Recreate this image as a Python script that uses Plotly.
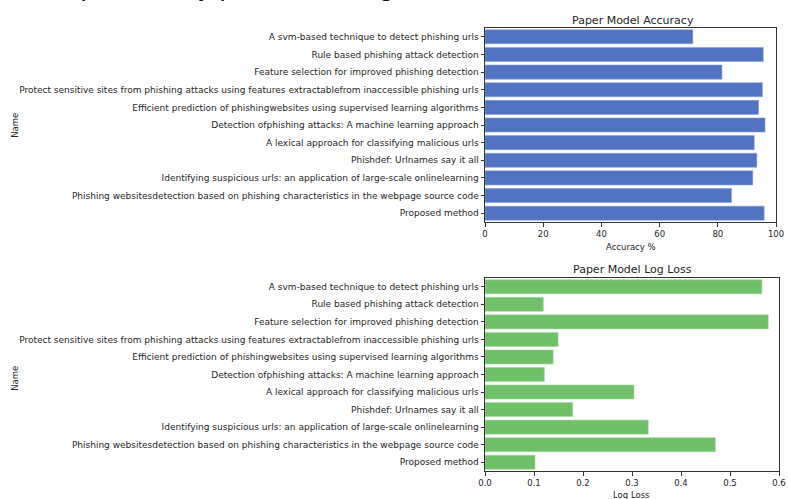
import plotly.graph_objects as go

names = [
    "A svm-based technique to detect phishing urls",
    "Rule based phishing attack detection",
    "Feature selection for improved phishing detection",
    "Protect sensitive sites from phishing attacks using features extractablefrom inaccessible phishing urls",
    "Efficient prediction of phishingwebsites using supervised learning algorithms",
    "Detection ofphishing attacks: A machine learning approach",
    "A lexical approach for classifying malicious urls",
    "Phishdef: Urlnames say it all",
    "Identifying suspicious urls: an application of large-scale onlinelearning",
    "Phishing websitesdetection based on phishing characteristics in the webpage source code",
    "Proposed method",
]
accuracy = [71.4, 95.6, 81.4, 95.3, 94.0, 96.2, 92.5, 93.4, 92.0, 84.7, 95.9]
log_loss = [0.565, 0.119, 0.578, 0.149, 0.139, 0.121, 0.304, 0.179, 0.333, 0.470, 0.102]

acc_ticks = [0, 20, 40, 60, 80, 100]
loss_ticks = [0.0, 0.1, 0.2, 0.3, 0.4, 0.5, 0.6]

W, H = 788, 499
FONT = "DejaVu Sans"
TXT = "#262626"

fig = go.Figure()
fig.add_trace(go.Bar(x=accuracy, y=names, orientation="h", xaxis="x", yaxis="y",
                     marker=dict(color="#5173C2", line=dict(color="#8aa2da", width=0.6)),
                     width=0.8, showlegend=False))
fig.add_trace(go.Bar(x=log_loss, y=names, orientation="h", xaxis="x2", yaxis="y2",
                     marker=dict(color="#70C069", line=dict(color="#9fd69a", width=0.6)),
                     width=0.8, showlegend=False))

def px_x(p):
    return p / W

def px_y(p):
    return 1 - p / H

axis_common = dict(showgrid=False, zeroline=False, showline=True, linecolor="#333",
                   linewidth=1, mirror=True, ticks="outside", ticklen=3.5,
                   tickcolor="#333", ticklabeloverflow="allow",
                   tickfont=dict(family=FONT, size=8.5, color=TXT))

fig.update_layout(
    width=W, height=H,
    margin=dict(l=0, r=0, t=0, b=0),
    paper_bgcolor="white", plot_bgcolor="white",
    bargap=0.2,
    xaxis=dict(domain=[px_x(487.3), px_x(784)], range=[0, 100], tickvals=acc_ticks,
               anchor="y", **axis_common),
    yaxis=dict(domain=[px_y(222), px_y(28)], autorange="reversed", anchor="x",
               **axis_common),
    xaxis2=dict(domain=[px_x(487.3), px_x(787)], range=[0, 0.6], tickvals=loss_ticks,
                tickformat=".1f", anchor="y2", **axis_common),
    yaxis2=dict(domain=[px_y(471), px_y(278)], autorange="reversed", anchor="x2",
                **axis_common),
)
fig.update_yaxes(tickfont=dict(family=FONT, size=9, color=TXT))

ann = [
    dict(text="Paper Model Accuracy", x=px_x(638), y=px_y(20)),
    dict(text="Paper Model Log Loss", x=px_x(638), y=px_y(269)),
]
for a in ann:
    fig.add_annotation(text=a["text"], x=a["x"], y=a["y"], xref="paper", yref="paper",
                       showarrow=False, xanchor="center", yanchor="middle",
                       font=dict(family=FONT, size=11, color=TXT))

for txt, x, y in [("Accuracy %", 636, 247), ("Log Loss", 637, 495)]:
    fig.add_annotation(text=txt, x=px_x(x), y=px_y(y), xref="paper", yref="paper",
                       showarrow=False, xanchor="center", yanchor="middle",
                       font=dict(family=FONT, size=8.5, color=TXT))

for y in [125, 378]:
    fig.add_annotation(text="Name", x=px_x(8), y=px_y(y), xref="paper", yref="paper",
                       showarrow=False, xanchor="center", yanchor="middle", textangle=-90,
                       font=dict(family=FONT, size=8.5, color=TXT))

# cropped heading text from the surrounding document
fig.add_annotation(text="ue de precisión y pérdida de logs.", x=px_x(-5), y=px_y(-15),
                   xref="paper", yref="paper", showarrow=False, xanchor="left",
                   yanchor="middle", font=dict(family="Liberation Sans", size=27.5, color="#111"))

fig.write_html("out.html")
